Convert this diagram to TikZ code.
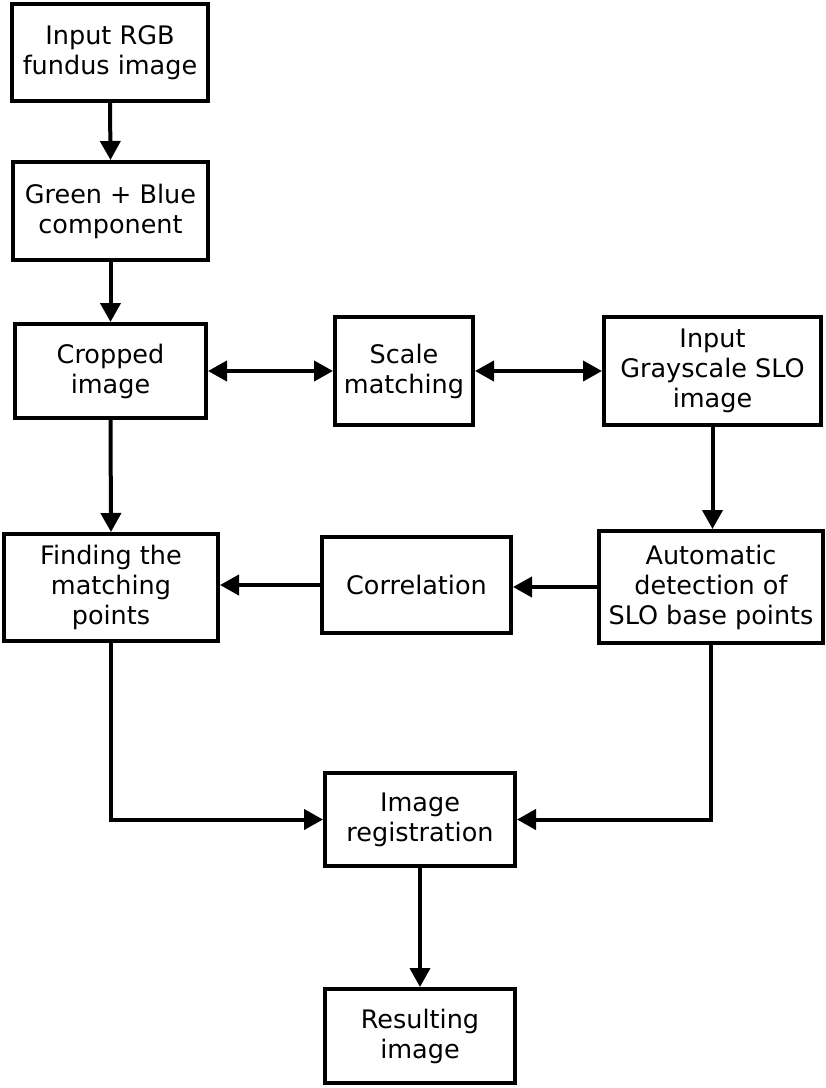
\documentclass[tikz,border=0pt]{standalone}
\usepackage{fontspec}
\setmainfont{DejaVu Sans}
\usetikzlibrary{arrows.meta}
\begin{document}
\begin{tikzpicture}[x=1pt,y=-1pt,
  box/.style={draw,line width=4pt,align=center,inner sep=0pt,
    font=\fontsize{25.5}{30}\selectfont},
  conn/.style={line width=4pt,-{Triangle[length=19pt,width=20pt]}},
  dconn/.style={line width=4pt,{Triangle[length=19pt,width=20pt]}-{Triangle[length=19pt,width=20pt]}}]
\useasboundingbox (0,0) rectangle (826,1088);
\node[box,minimum width=196pt,minimum height=97pt] (in) at (110,52.5) {Input RGB\\fundus image};
\node[box,minimum width=195pt,minimum height=98pt] (gb) at (110.5,211) {Green + Blue\\component};
\node[box,minimum width=191pt,minimum height=94pt] (crop) at (110.5,371) {Cropped\\image};
\node[box,minimum width=138pt,minimum height=108pt] (scale) at (404,371) {Scale\\matching};
\node[box,minimum width=217pt,minimum height=108pt] (gray) at (712.5,371) {Input\\Grayscale SLO\\image};
\node[box,minimum width=214pt,minimum height=107pt] (find) at (111,587.5) {Finding the\\matching\\points};
\node[box,minimum width=189pt,minimum height=96pt] (corr) at (416.5,585) {Correlation};
\node[box,minimum width=224pt,minimum height=112pt] (auto) at (711,587) {Automatic\\detection of\\SLO base points};
\node[box,minimum width=190pt,minimum height=93pt] (reg) at (420,819.5) {Image\\registration};
\node[box,minimum width=190pt,minimum height=94pt] (res) at (420,1036) {Resulting\\image};
\draw[conn] (in.south) -- (gb.north);
\draw[conn] (gb.south) -- (crop.north);
\draw[dconn] (crop.east) -- (scale.west);
\draw[dconn] (scale.east) -- (gray.west);
\draw[conn] (crop.south) -- (find.north);
\draw[conn] (gray.south) -- (gray.south |- auto.north);
\draw[conn] (auto.west) -- (auto.west -| corr.east);
\draw[conn] (corr.west) -- (corr.west -| find.east);
\draw[conn] (find.south) |- (reg.west);
\draw[conn] (auto.south) |- (reg.east);
\draw[conn] (reg.south) -- (res.north);
\end{tikzpicture}
\end{document}
